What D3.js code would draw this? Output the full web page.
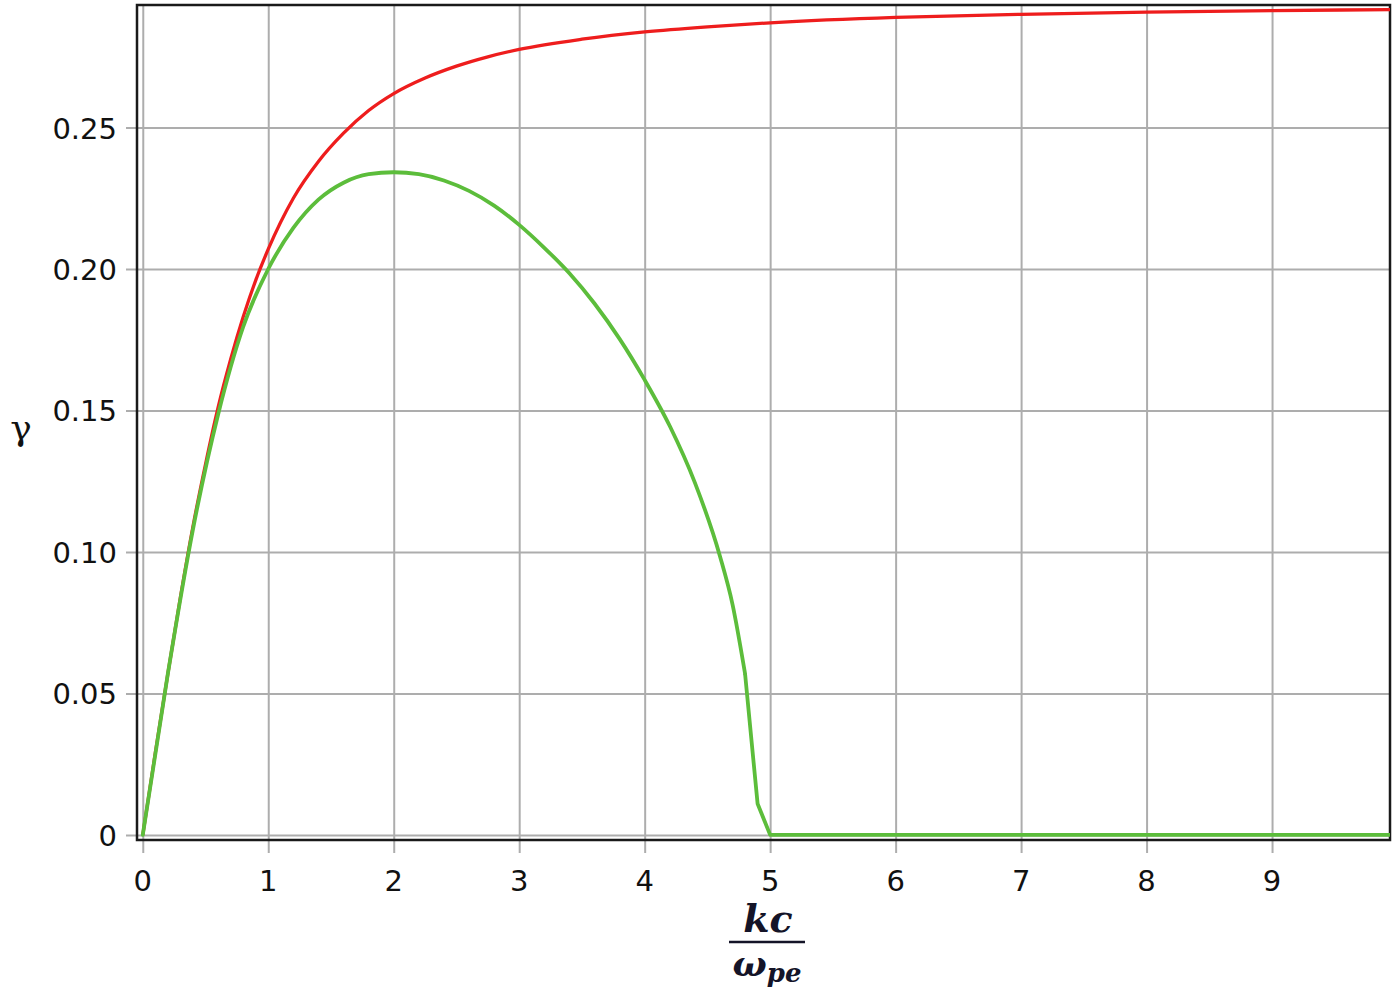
<!DOCTYPE html>
<html>
<head>
<meta charset="utf-8">
<script src="https://cdn.jsdelivr.net/npm/d3@7"></script>
<style>
  body { margin: 0; background: #fff; }
  svg { display: block; }
</style>
</head>
<body>
<div id="chart"></div>
<script>
// Values
const red_k = [0, 0.1, 0.2, 0.3, 0.4, 0.5, 0.6, 0.7, 0.8, 0.9, 1.0, 1.2, 1.4, 1.6, 1.8, 2.0,
               2.25, 2.5, 2.75, 3.0, 3.5, 4.0, 4.5, 5.0, 6.0, 7.0, 8.0, 9.0, 9.94];
const red_gamma = [0, 0.029, 0.057, 0.084, 0.109, 0.131, 0.151, 0.168, 0.183, 0.196, 0.207, 0.225, 0.238, 0.248, 0.256, 0.262,
                   0.2675, 0.2717, 0.2750, 0.2776, 0.2812, 0.2838, 0.2856, 0.2870, 0.2889, 0.2900, 0.2908, 0.2913, 0.2917];

// green: smooth part, then the sharp drop to zero
const green_k = [0, 0.2, 0.4, 0.6, 0.8, 1.0, 1.2, 1.4, 1.6, 1.8, 2.0, 2.2, 2.4, 2.6, 2.8,
                 3.0, 3.2, 3.4, 3.6, 3.8, 4.0, 4.2, 4.4, 4.6, 4.7, 4.8];
const green_gamma = [0, 0.057, 0.108, 0.1485, 0.1795, 0.2000, 0.2145, 0.2245, 0.2305, 0.2335, 0.2342, 0.2335, 0.2313, 0.2276, 0.2224,
                     0.2156, 0.2075, 0.1985, 0.1878, 0.1753, 0.1608, 0.1445, 0.1245, 0.0985, 0.0815, 0.057];
const green_tail_k = [4.8, 4.9, 5.0, 9.94];
const green_tail_gamma = [0.057, 0.011, 0, 0];

const x_ticks = [0, 1, 2, 3, 4, 5, 6, 7, 8, 9];
const y_ticks = [0, 0.05, 0.10, 0.15, 0.20, 0.25];
const y_tick_labels = ["0", "0.05", "0.10", "0.15", "0.20", "0.25"];

// set the dimensions and margins of the graph
var W = 1400, H = 998;
var plotLeft = 137, plotRight = 1390, plotTop = 5, plotBottom = 840;

var svg = d3.select("#chart")
  .append("svg")
    .attr("width", W)
    .attr("height", H);

var x = d3.scaleLinear().domain([-0.046, 9.94]).range([plotLeft, plotRight]);
var y = d3.scaleLinear().domain([-0.0018, 0.2933]).range([plotBottom, plotTop]);

// gridlines (they stick out past the frame as ticks)
svg.append("g")
  .attr("transform", "translate(0," + plotTop + ")")
  .call(d3.axisBottom(x).tickValues(x_ticks).tickSize(plotBottom - plotTop + 13).tickFormat(""))
  .call(g => g.select(".domain").remove())
  .selectAll("line").attr("stroke", "#adadad").attr("stroke-width", 2);

svg.append("g")
  .attr("transform", "translate(" + plotRight + ",0)")
  .call(d3.axisLeft(y).tickValues(y_ticks).tickSize(plotRight - plotLeft + 11).tickFormat(""))
  .call(g => g.select(".domain").remove())
  .selectAll("line").attr("stroke", "#adadad").attr("stroke-width", 2);

// frame
svg.append("rect")
  .attr("x", plotLeft).attr("y", plotTop)
  .attr("width", plotRight - plotLeft).attr("height", plotBottom - plotTop)
  .attr("fill", "none").attr("stroke", "#1a1a1a").attr("stroke-width", 2.5);

// tick labels
svg.append("g")
  .selectAll("text")
  .data(x_ticks)
  .join("text")
    .attr("x", d => x(d))
    .attr("y", 891)
    .attr("text-anchor", "middle")
    .attr("font-family", "DejaVu Sans, sans-serif")
    .attr("font-size", 29)
    .attr("fill", "#111")
    .text(d => d);

svg.append("g")
  .selectAll("text")
  .data(y_ticks)
  .join("text")
    .attr("x", 117)
    .attr("y", d => y(d) + 11)
    .attr("text-anchor", "end")
    .attr("font-family", "DejaVu Sans, sans-serif")
    .attr("font-size", 29)
    .attr("fill", "#111")
    .text((d, i) => y_tick_labels[i]);

// curves
var smooth = d3.line().x(d => x(d[0])).y(d => y(d[1])).curve(d3.curveMonotoneX);
var straight = d3.line().x(d => x(d[0])).y(d => y(d[1]));

svg.append("path")
  .datum(red_k.map((k, i) => [k, red_gamma[i]]))
  .attr("d", smooth)
  .attr("fill", "none").attr("stroke", "#ee1d1d").attr("stroke-width", 3.3);

svg.append("path")
  .datum(green_k.map((k, i) => [k, green_gamma[i]]))
  .attr("d", smooth)
  .attr("fill", "none").attr("stroke", "#5cbd3b").attr("stroke-width", 3.8)
  .attr("stroke-linecap", "round");

svg.append("path")
  .datum(green_tail_k.map((k, i) => [k, green_tail_gamma[i]]))
  .attr("d", straight)
  .attr("fill", "none").attr("stroke", "#5cbd3b").attr("stroke-width", 3.8)
  .attr("stroke-linejoin", "round");

// axis labels
svg.append("text")
  .attr("x", 21).attr("y", 440)
  .attr("text-anchor", "middle")
  .attr("font-family", "DejaVu Serif, serif")
  .attr("font-size", 36)
  .attr("fill", "#111")
  .text("γ");

var xl = svg.append("g").attr("font-family", "DejaVu Serif, serif").attr("fill", "#141428");
xl.append("text")
  .attr("x", 768).attr("y", 932)
  .attr("text-anchor", "middle")
  .attr("font-size", 38).attr("font-style", "italic").attr("font-weight", "bold")
  .text("kc");
xl.append("line")
  .attr("x1", 729).attr("x2", 805).attr("y1", 942).attr("y2", 942)
  .attr("stroke", "#141428").attr("stroke-width", 2.5);
var den = xl.append("text")
  .attr("x", 767).attr("y", 976)
  .attr("text-anchor", "middle")
  .attr("font-style", "italic").attr("font-weight", "bold");
den.append("tspan").attr("font-size", 36).text("ω");
den.append("tspan").attr("font-size", 26).attr("dy", 6).text("pe");
</script>
</body>
</html>
